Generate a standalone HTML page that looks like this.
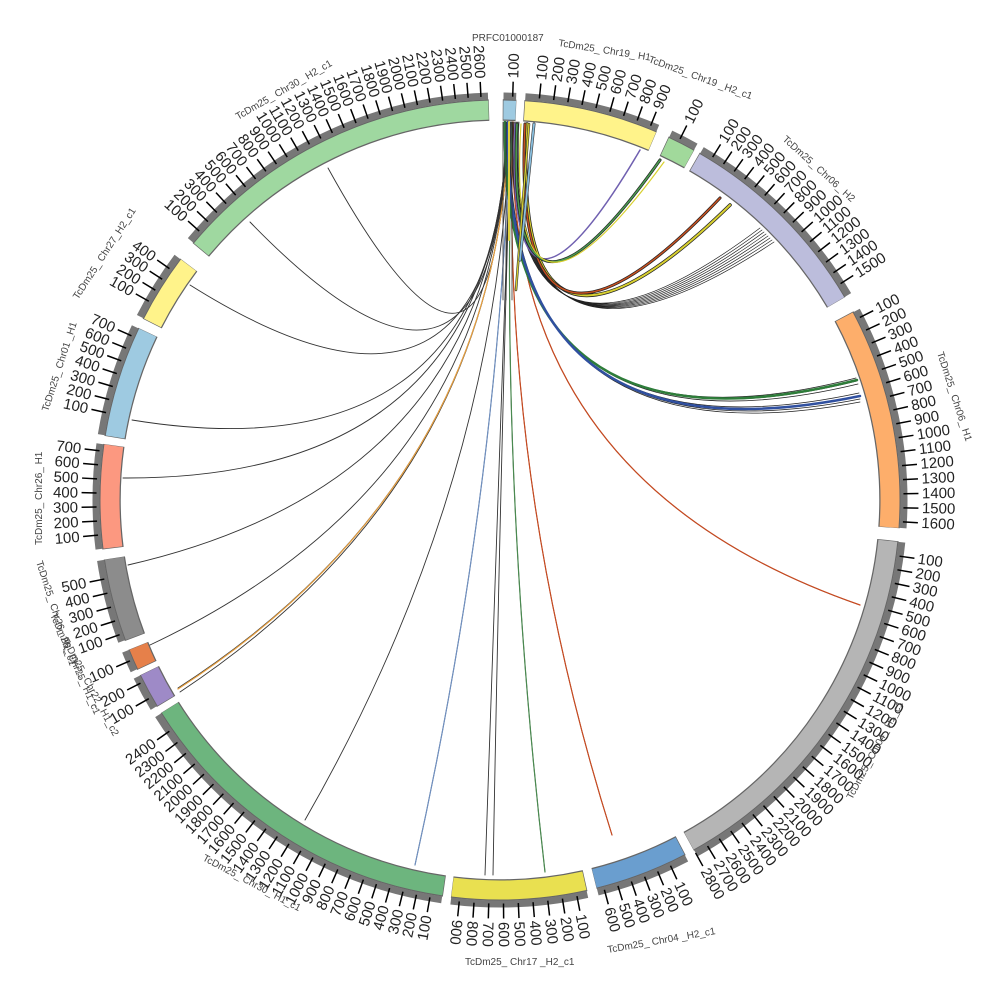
<!DOCTYPE html>
<html><head><meta charset="utf-8"><style>
html,body{margin:0;padding:0;background:#fff;width:1000px;height:1000px;overflow:hidden}
svg{display:block}
.t{font-family:"Liberation Sans",sans-serif;font-size:15px;fill:#222}
.r{text-anchor:start}.l{text-anchor:end}
.n{font-family:"Liberation Sans",sans-serif;font-size:10px;fill:#444}
</style></head><body>
<svg width="1000" height="1000" viewBox="0 0 1000 1000" xmlns="http://www.w3.org/2000/svg">
<g fill="none">
<!-- outlines -->
<g stroke="#666" stroke-width="21.5">
<circle cx="500" cy="500" r="390" stroke-dasharray="330 3000" transform="rotate(219.9 500 500)"/>
<circle cx="500" cy="500" r="390" stroke-dasharray="13.3 3000" transform="rotate(-89.6 500 500)"/>
<circle cx="500" cy="500" r="390" stroke-dasharray="133 3000" transform="rotate(-86.5 500 500)"/>
<circle cx="500" cy="500" r="390" stroke-dasharray="28.2 3000" transform="rotate(-65.1 500 500)"/>
<circle cx="500" cy="500" r="390" stroke-dasharray="201.8 3000" transform="rotate(-60.1 500 500)"/>
<circle cx="500" cy="500" r="390" stroke-dasharray="218.8 3000" transform="rotate(-28.1 500 500)"/>
<circle cx="500" cy="500" r="390" stroke-dasharray="375.4 3000" transform="rotate(5.9 500 500)"/>
<circle cx="500" cy="500" r="390" stroke-dasharray="92.9 3000" transform="rotate(62.4 500 500)"/>
<circle cx="500" cy="500" r="390" stroke-dasharray="133.7 3000" transform="rotate(77.4 500 500)"/>
<circle cx="500" cy="500" r="390" stroke-dasharray="338 3000" transform="rotate(98.2 500 500)"/>
<circle cx="500" cy="500" r="390" stroke-dasharray="35 3000" transform="rotate(148.9 500 500)"/>
<circle cx="500" cy="500" r="390" stroke-dasharray="21.4 3000" transform="rotate(154.9 500 500)"/>
<circle cx="500" cy="500" r="390" stroke-dasharray="82 3000" transform="rotate(159.4 500 500)"/>
<circle cx="500" cy="500" r="390" stroke-dasharray="103.1 3000" transform="rotate(172.9 500 500)"/>
<circle cx="500" cy="500" r="390" stroke-dasharray="110.6 3000" transform="rotate(189.2 500 500)"/>
<circle cx="500" cy="500" r="390" stroke-dasharray="69.1 3000" transform="rotate(206.9 500 500)"/>
</g>
<!-- fills -->
<g stroke-width="19">
<circle cx="500" cy="500" r="390" stroke="#9fd8a0" stroke-dasharray="328.8 3000" transform="rotate(220 500 500)"/>
<circle cx="500" cy="500" r="390" stroke="#9ecae1" stroke-dasharray="12.3 3000" transform="rotate(-89.5 500 500)"/>
<circle cx="500" cy="500" r="390" stroke="#fff38a" stroke-dasharray="132 3000" transform="rotate(-86.4 500 500)"/>
<circle cx="500" cy="500" r="390" stroke="#a1d99b" stroke-dasharray="27.2 3000" transform="rotate(-65 500 500)"/>
<circle cx="500" cy="500" r="390" stroke="#bcbddc" stroke-dasharray="200.8 3000" transform="rotate(-60 500 500)"/>
<circle cx="500" cy="500" r="390" stroke="#fdae6b" stroke-dasharray="217.8 3000" transform="rotate(-28 500 500)"/>
<circle cx="500" cy="500" r="390" stroke="#b5b5b5" stroke-dasharray="374.4 3000" transform="rotate(6 500 500)"/>
<circle cx="500" cy="500" r="390" stroke="#6a9ecf" stroke-dasharray="91.9 3000" transform="rotate(62.5 500 500)"/>
<circle cx="500" cy="500" r="390" stroke="#e9e050" stroke-dasharray="132.7 3000" transform="rotate(77.5 500 500)"/>
<circle cx="500" cy="500" r="390" stroke="#6db57e" stroke-dasharray="337 3000" transform="rotate(98.3 500 500)"/>
<circle cx="500" cy="500" r="390" stroke="#9e8ac7" stroke-dasharray="34 3000" transform="rotate(149 500 500)"/>
<circle cx="500" cy="500" r="390" stroke="#e6804a" stroke-dasharray="20.4 3000" transform="rotate(155 500 500)"/>
<circle cx="500" cy="500" r="390" stroke="#8c8c8c" stroke-dasharray="81 3000" transform="rotate(159.5 500 500)"/>
<circle cx="500" cy="500" r="390" stroke="#fc9880" stroke-dasharray="102.1 3000" transform="rotate(173 500 500)"/>
<circle cx="500" cy="500" r="390" stroke="#9ecae1" stroke-dasharray="109.6 3000" transform="rotate(189.3 500 500)"/>
<circle cx="500" cy="500" r="390" stroke="#fff38a" stroke-dasharray="68.1 3000" transform="rotate(207 500 500)"/>
</g>
<!-- gray band -->
<g stroke="#777" stroke-width="7">
<circle cx="500" cy="500" r="404" stroke-dasharray="340.5 3000" transform="rotate(220 500 500)"/>
<circle cx="500" cy="500" r="404" stroke-dasharray="12.7 3000" transform="rotate(-89.5 500 500)"/>
<circle cx="500" cy="500" r="404" stroke-dasharray="136.8 3000" transform="rotate(-86.4 500 500)"/>
<circle cx="500" cy="500" r="404" stroke-dasharray="28.2 3000" transform="rotate(-65 500 500)"/>
<circle cx="500" cy="500" r="404" stroke-dasharray="208 3000" transform="rotate(-60 500 500)"/>
<circle cx="500" cy="500" r="404" stroke-dasharray="225.6 3000" transform="rotate(-28 500 500)"/>
<circle cx="500" cy="500" r="404" stroke-dasharray="387.8 3000" transform="rotate(6 500 500)"/>
<circle cx="500" cy="500" r="404" stroke-dasharray="95.2 3000" transform="rotate(62.5 500 500)"/>
<circle cx="500" cy="500" r="404" stroke-dasharray="137.5 3000" transform="rotate(77.5 500 500)"/>
<circle cx="500" cy="500" r="404" stroke-dasharray="349 3000" transform="rotate(98.3 500 500)"/>
<circle cx="500" cy="500" r="404" stroke-dasharray="35.3 3000" transform="rotate(149 500 500)"/>
<circle cx="500" cy="500" r="404" stroke-dasharray="21.2 3000" transform="rotate(155 500 500)"/>
<circle cx="500" cy="500" r="404" stroke-dasharray="83.9 3000" transform="rotate(159.5 500 500)"/>
<circle cx="500" cy="500" r="404" stroke-dasharray="105.8 3000" transform="rotate(173 500 500)"/>
<circle cx="500" cy="500" r="404" stroke-dasharray="113.5 3000" transform="rotate(189.3 500 500)"/>
<circle cx="500" cy="500" r="404" stroke-dasharray="70.5 3000" transform="rotate(207 500 500)"/>
</g>
<!-- ticks -->
<g stroke="#000" stroke-width="15">
<circle cx="500" cy="500" r="411" stroke-dasharray="1.5 11.55 1.5 11.55 1.5 11.55 1.5 11.55 1.5 11.55 1.5 11.55 1.5 11.55 1.5 11.55 1.5 11.55 1.5 11.55 1.5 11.55 1.5 11.55 1.5 11.55 1.5 11.55 1.5 11.55 1.5 11.55 1.5 11.55 1.5 11.55 1.5 11.55 1.5 11.55 1.5 11.55 1.5 11.55 1.5 11.55 1.5 11.55 1.5 11.55 1.5 3000" transform="rotate(221.7 500 500)"/>
<circle cx="500" cy="500" r="411" stroke-dasharray="1.5 3000" transform="rotate(-88.3 500 500)"/>
<circle cx="500" cy="500" r="411" stroke-dasharray="1.5 13.13 1.5 13.13 1.5 13.13 1.5 13.13 1.5 13.13 1.5 13.13 1.5 13.13 1.5 13.13 1.5 3000" transform="rotate(-84.5 500 500)"/>
<circle cx="500" cy="500" r="411" stroke-dasharray="1.5 3000" transform="rotate(-63.6 500 500)"/>
<circle cx="500" cy="500" r="411" stroke-dasharray="1.5 11.7 1.5 11.7 1.5 11.7 1.5 11.7 1.5 11.7 1.5 11.7 1.5 11.7 1.5 11.7 1.5 11.7 1.5 11.7 1.5 11.7 1.5 11.7 1.5 11.7 1.5 11.7 1.5 3000" transform="rotate(-58.3 500 500)"/>
<circle cx="500" cy="500" r="411" stroke-dasharray="1.5 12.85 1.5 12.85 1.5 12.85 1.5 12.85 1.5 12.85 1.5 12.85 1.5 12.85 1.5 12.85 1.5 12.85 1.5 12.85 1.5 12.85 1.5 12.85 1.5 12.85 1.5 12.85 1.5 12.85 1.5 3000" transform="rotate(-27 500 500)"/>
<circle cx="500" cy="500" r="411" stroke-dasharray="1.5 12.58 1.5 12.58 1.5 12.58 1.5 12.58 1.5 12.58 1.5 12.58 1.5 12.58 1.5 12.58 1.5 12.58 1.5 12.58 1.5 12.58 1.5 12.58 1.5 12.58 1.5 12.58 1.5 12.58 1.5 12.58 1.5 12.58 1.5 12.58 1.5 12.58 1.5 12.58 1.5 12.58 1.5 12.58 1.5 12.58 1.5 12.58 1.5 12.58 1.5 12.58 1.5 12.58 1.5 3000" transform="rotate(7.9 500 500)"/>
<circle cx="500" cy="500" r="411" stroke-dasharray="1.5 12.85 1.5 12.85 1.5 12.85 1.5 12.85 1.5 12.85 1.5 3000" transform="rotate(64.9 500 500)"/>
<circle cx="500" cy="500" r="411" stroke-dasharray="1.5 13.56 1.5 13.56 1.5 13.56 1.5 13.56 1.5 13.56 1.5 13.56 1.5 13.56 1.5 13.56 1.5 3000" transform="rotate(78.9 500 500)"/>
<circle cx="500" cy="500" r="411" stroke-dasharray="1.5 12.54 1.5 12.54 1.5 12.54 1.5 12.54 1.5 12.54 1.5 12.54 1.5 12.54 1.5 12.54 1.5 12.54 1.5 12.54 1.5 12.54 1.5 12.54 1.5 12.54 1.5 12.54 1.5 12.54 1.5 12.54 1.5 12.54 1.5 12.54 1.5 12.54 1.5 12.54 1.5 12.54 1.5 12.54 1.5 12.54 1.5 3000" transform="rotate(99.9 500 500)"/>
<circle cx="500" cy="500" r="411" stroke-dasharray="1.5 16.4 1.5 3000" transform="rotate(150.4 500 500)"/>
<circle cx="500" cy="500" r="411" stroke-dasharray="1.5 3000" transform="rotate(156.4 500 500)"/>
<circle cx="500" cy="500" r="411" stroke-dasharray="1.5 13.2 1.5 13.2 1.5 13.2 1.5 13.2 1.5 3000" transform="rotate(160.4 500 500)"/>
<circle cx="500" cy="500" r="411" stroke-dasharray="1.5 12.85 1.5 12.85 1.5 12.85 1.5 12.85 1.5 12.85 1.5 12.85 1.5 3000" transform="rotate(174.9 500 500)"/>
<circle cx="500" cy="500" r="411" stroke-dasharray="1.5 12.27 1.5 12.27 1.5 12.27 1.5 12.27 1.5 12.27 1.5 12.27 1.5 3000" transform="rotate(192.4 500 500)"/>
<circle cx="500" cy="500" r="411" stroke-dasharray="1.5 11.63 1.5 11.63 1.5 11.63 1.5 3000" transform="rotate(209.4 500 500)"/>
</g>
</g>

<!-- chords -->
<g fill="none" stroke-linecap="round">
<g stroke="#333" stroke-width="0.9">
<path d="M506 122 Q500 480 328 168"/>
<path d="M506 122 Q500 480 250 222"/>
<path d="M507 122 Q500 480 190 285"/>
<path d="M507 122 Q500 480 132 420"/>
<path d="M507 122 Q500 480 123 478"/>
<path d="M508 122 Q500 480 128 565"/>
<path d="M508 122 Q500 480 150 645"/>
<path d="M509 122 Q500 480 178 688"/>
<path d="M509 122 Q500 480 180 692"/>
<path d="M510 122 Q500 480 305 820"/>
<path d="M510 122 Q500 480 415 865"/>
<path d="M511 122 Q500 480 485 875"/>
<path d="M511 122 Q500 480 493 875"/>
<path d="M512 122 Q500 480 545 872"/>
<path d="M513 122 Q500 480 612 835"/>
<path d="M513 122 Q500 480 860 605"/>
</g>
<g stroke-width="1.2">
<path d="M509 122 Q500 480 178 689" stroke="#e8a040"/>
<path d="M512 122 Q500 480 545 872" stroke="#4a8a50"/>
<path d="M513 122 Q500 480 612 835" stroke="#c84a20"/>
<path d="M513 122 Q500 480 860 605" stroke="#c84a20"/>
<path d="M510 122 Q500 480 415 865" stroke="#7090c0"/>
</g>
<!-- right bundles -->
<g stroke="#222" stroke-width="0.8">
<path d="M504 122 Q500 470 856 378"/>
<path d="M505 122 Q500 470 857 381"/>
<path d="M506 122 Q500 470 858 384"/>
<path d="M507 122 Q500 470 859 393"/>
<path d="M508 122 Q500 470 860 396"/>
<path d="M509 122 Q500 470 860 399"/>
<path d="M510 122 Q500 470 860 402"/>
</g>
<path d="M505 122 Q500 470 857 380" stroke="#2e7d3a" stroke-width="2.5"/>
<path d="M508 122 Q500 470 860 396" stroke="#3050a0" stroke-width="2.5"/>
<g stroke="#222" stroke-width="0.7">
<path d="M512 122 Q505 420 760 228"/>
<path d="M513 122 Q505 420 762 230"/>
<path d="M514 122 Q505 420 764 232"/>
<path d="M515 122 Q505 420 766 234"/>
<path d="M516 122 Q505 420 768 236"/>
<path d="M517 122 Q505 420 770 238"/>
<path d="M518 122 Q505 420 772 240"/>
<path d="M519 122 Q505 420 774 242"/>
</g>
<path d="M527 124 Q510 420 730 205" stroke="#222" stroke-width="3.5"/>
<path d="M527 124 Q510 420 730 205" stroke="#d8d030" stroke-width="2"/>
<path d="M525 124 Q510 420 720 198" stroke="#222" stroke-width="3"/>
<path d="M525 124 Q510 420 720 198" stroke="#c85020" stroke-width="1.5"/>
<path d="M515 124 Q505 380 640 150" stroke="#7060b0" stroke-width="1.5"/>
<path d="M517 124 Q505 380 660 160" stroke="#222" stroke-width="3"/>
<path d="M517 124 Q505 380 660 160" stroke="#4a9a50" stroke-width="1.6"/>
<path d="M521 124 Q505 380 664 162" stroke="#d8d030" stroke-width="1.2"/>
<!-- top ribbon stems -->
<path d="M503 122 L503 300 M506 122 L506 300 M512 122 L512 300" stroke="#333" stroke-width="0.8"/>
<path d="M509 122 L509 240" stroke="#e0d040" stroke-width="2"/>
<path d="M529 124 L516 290" stroke="#333" stroke-width="2.5"/>
<path d="M529 124 L516 290" stroke="#d8d030" stroke-width="1.3"/>
<path d="M534 124 L520 260" stroke="#333" stroke-width="3"/>
<path d="M534 124 L520 260" stroke="#8ac0e0" stroke-width="1.8"/>
</g>

<!-- labels: right convention -->
<g class="t r">
<text x="922" y="505" transform="rotate(-88.2 500 500)">100</text>
<text x="922" y="505" transform="rotate(-84.4 500 500)">100</text>
<text x="922" y="505" transform="rotate(-82.3 500 500)">200</text>
<text x="922" y="505" transform="rotate(-80.3 500 500)">300</text>
<text x="922" y="505" transform="rotate(-78.2 500 500)">400</text>
<text x="922" y="505" transform="rotate(-76.2 500 500)">500</text>
<text x="922" y="505" transform="rotate(-74.2 500 500)">600</text>
<text x="922" y="505" transform="rotate(-72.1 500 500)">700</text>
<text x="922" y="505" transform="rotate(-70.1 500 500)">800</text>
<text x="922" y="505" transform="rotate(-68.1 500 500)">900</text>
<text x="922" y="505" transform="rotate(-63.5 500 500)">100</text>
<text x="922" y="505" transform="rotate(-58.2 500 500)">100</text>
<text x="922" y="505" transform="rotate(-56.3 500 500)">200</text>
<text x="922" y="505" transform="rotate(-54.5 500 500)">300</text>
<text x="922" y="505" transform="rotate(-52.6 500 500)">400</text>
<text x="922" y="505" transform="rotate(-50.8 500 500)">500</text>
<text x="922" y="505" transform="rotate(-49 500 500)">600</text>
<text x="922" y="505" transform="rotate(-47.1 500 500)">700</text>
<text x="922" y="505" transform="rotate(-45.3 500 500)">800</text>
<text x="922" y="505" transform="rotate(-43.5 500 500)">900</text>
<text x="922" y="505" transform="rotate(-41.6 500 500)">1000</text>
<text x="922" y="505" transform="rotate(-39.8 500 500)">1100</text>
<text x="922" y="505" transform="rotate(-38 500 500)">1200</text>
<text x="922" y="505" transform="rotate(-36.1 500 500)">1300</text>
<text x="922" y="505" transform="rotate(-34.3 500 500)">1400</text>
<text x="922" y="505" transform="rotate(-32.4 500 500)">1500</text>
<text x="922" y="505" transform="rotate(-26.9 500 500)">100</text>
<text x="922" y="505" transform="rotate(-24.9 500 500)">200</text>
<text x="922" y="505" transform="rotate(-22.9 500 500)">300</text>
<text x="922" y="505" transform="rotate(-20.9 500 500)">400</text>
<text x="922" y="505" transform="rotate(-18.9 500 500)">500</text>
<text x="922" y="505" transform="rotate(-16.9 500 500)">600</text>
<text x="922" y="505" transform="rotate(-14.9 500 500)">700</text>
<text x="922" y="505" transform="rotate(-12.9 500 500)">800</text>
<text x="922" y="505" transform="rotate(-10.9 500 500)">900</text>
<text x="922" y="505" transform="rotate(-8.9 500 500)">1000</text>
<text x="922" y="505" transform="rotate(-6.9 500 500)">1100</text>
<text x="922" y="505" transform="rotate(-4.9 500 500)">1200</text>
<text x="922" y="505" transform="rotate(-2.9 500 500)">1300</text>
<text x="922" y="505" transform="rotate(-0.9 500 500)">1400</text>
<text x="922" y="505" transform="rotate(1.1 500 500)">1500</text>
<text x="922" y="505" transform="rotate(3.1 500 500)">1600</text>
<text x="922" y="505" transform="rotate(8 500 500)">100</text>
<text x="922" y="505" transform="rotate(9.96 500 500)">200</text>
<text x="922" y="505" transform="rotate(11.9 500 500)">300</text>
<text x="922" y="505" transform="rotate(13.9 500 500)">400</text>
<text x="922" y="505" transform="rotate(15.9 500 500)">500</text>
<text x="922" y="505" transform="rotate(17.8 500 500)">600</text>
<text x="922" y="505" transform="rotate(19.8 500 500)">700</text>
<text x="922" y="505" transform="rotate(21.7 500 500)">800</text>
<text x="922" y="505" transform="rotate(23.7 500 500)">900</text>
<text x="922" y="505" transform="rotate(25.7 500 500)">1000</text>
<text x="922" y="505" transform="rotate(27.6 500 500)">1100</text>
<text x="922" y="505" transform="rotate(29.6 500 500)">1200</text>
<text x="922" y="505" transform="rotate(31.6 500 500)">1300</text>
<text x="922" y="505" transform="rotate(33.5 500 500)">1400</text>
<text x="922" y="505" transform="rotate(35.5 500 500)">1500</text>
<text x="922" y="505" transform="rotate(37.4 500 500)">1600</text>
<text x="922" y="505" transform="rotate(39.4 500 500)">1700</text>
<text x="922" y="505" transform="rotate(41.4 500 500)">1800</text>
<text x="922" y="505" transform="rotate(43.3 500 500)">1900</text>
<text x="922" y="505" transform="rotate(45.3 500 500)">2000</text>
<text x="922" y="505" transform="rotate(47.3 500 500)">2100</text>
<text x="922" y="505" transform="rotate(49.2 500 500)">2200</text>
<text x="922" y="505" transform="rotate(51.2 500 500)">2300</text>
<text x="922" y="505" transform="rotate(53.1 500 500)">2400</text>
<text x="922" y="505" transform="rotate(55.1 500 500)">2500</text>
<text x="922" y="505" transform="rotate(57.1 500 500)">2600</text>
<text x="922" y="505" transform="rotate(59 500 500)">2700</text>
<text x="922" y="505" transform="rotate(61 500 500)">2800</text>
<text x="922" y="505" transform="rotate(65 500 500)">100</text>
<text x="922" y="505" transform="rotate(67 500 500)">200</text>
<text x="922" y="505" transform="rotate(69 500 500)">300</text>
<text x="922" y="505" transform="rotate(71 500 500)">400</text>
<text x="922" y="505" transform="rotate(73 500 500)">500</text>
<text x="922" y="505" transform="rotate(75 500 500)">600</text>
<text x="922" y="505" transform="rotate(79 500 500)">100</text>
<text x="922" y="505" transform="rotate(81.1 500 500)">200</text>
<text x="922" y="505" transform="rotate(83.2 500 500)">300</text>
<text x="922" y="505" transform="rotate(85.3 500 500)">400</text>
<text x="922" y="505" transform="rotate(87.4 500 500)">500</text>
<text x="922" y="505" transform="rotate(89.5 500 500)">600</text>
<text x="922" y="505" transform="rotate(91.6 500 500)">700</text>
<text x="922" y="505" transform="rotate(93.7 500 500)">800</text>
<text x="922" y="505" transform="rotate(95.8 500 500)">900</text>
</g>
<!-- labels: left convention -->
<g class="t l">
<text x="78" y="505" transform="rotate(-80 500 500)">100</text>
<text x="78" y="505" transform="rotate(-78 500 500)">200</text>
<text x="78" y="505" transform="rotate(-76.1 500 500)">300</text>
<text x="78" y="505" transform="rotate(-74.1 500 500)">400</text>
<text x="78" y="505" transform="rotate(-72.2 500 500)">500</text>
<text x="78" y="505" transform="rotate(-70.2 500 500)">600</text>
<text x="78" y="505" transform="rotate(-68.3 500 500)">700</text>
<text x="78" y="505" transform="rotate(-66.3 500 500)">800</text>
<text x="78" y="505" transform="rotate(-64.3 500 500)">900</text>
<text x="78" y="505" transform="rotate(-62.4 500 500)">1000</text>
<text x="78" y="505" transform="rotate(-60.4 500 500)">1100</text>
<text x="78" y="505" transform="rotate(-58.5 500 500)">1200</text>
<text x="78" y="505" transform="rotate(-56.5 500 500)">1300</text>
<text x="78" y="505" transform="rotate(-54.6 500 500)">1400</text>
<text x="78" y="505" transform="rotate(-52.6 500 500)">1500</text>
<text x="78" y="505" transform="rotate(-50.6 500 500)">1600</text>
<text x="78" y="505" transform="rotate(-48.7 500 500)">1700</text>
<text x="78" y="505" transform="rotate(-46.7 500 500)">1800</text>
<text x="78" y="505" transform="rotate(-44.8 500 500)">1900</text>
<text x="78" y="505" transform="rotate(-42.8 500 500)">2000</text>
<text x="78" y="505" transform="rotate(-40.9 500 500)">2100</text>
<text x="78" y="505" transform="rotate(-38.9 500 500)">2200</text>
<text x="78" y="505" transform="rotate(-37 500 500)">2300</text>
<text x="78" y="505" transform="rotate(-35 500 500)">2400</text>
<text x="78" y="505" transform="rotate(-29.5 500 500)">100</text>
<text x="78" y="505" transform="rotate(-27 500 500)">200</text>
<text x="78" y="505" transform="rotate(-23.5 500 500)">100</text>
<text x="78" y="505" transform="rotate(-19.5 500 500)">100</text>
<text x="78" y="505" transform="rotate(-17.45 500 500)">200</text>
<text x="78" y="505" transform="rotate(-15.4 500 500)">300</text>
<text x="78" y="505" transform="rotate(-13.35 500 500)">400</text>
<text x="78" y="505" transform="rotate(-11.3 500 500)">500</text>
<text x="78" y="505" transform="rotate(-5 500 500)">100</text>
<text x="78" y="505" transform="rotate(-3 500 500)">200</text>
<text x="78" y="505" transform="rotate(-1 500 500)">300</text>
<text x="78" y="505" transform="rotate(1 500 500)">400</text>
<text x="78" y="505" transform="rotate(3 500 500)">500</text>
<text x="78" y="505" transform="rotate(5 500 500)">600</text>
<text x="78" y="505" transform="rotate(7 500 500)">700</text>
<text x="78" y="505" transform="rotate(12.5 500 500)">100</text>
<text x="78" y="505" transform="rotate(14.4 500 500)">200</text>
<text x="78" y="505" transform="rotate(16.3 500 500)">300</text>
<text x="78" y="505" transform="rotate(18.3 500 500)">400</text>
<text x="78" y="505" transform="rotate(20.2 500 500)">500</text>
<text x="78" y="505" transform="rotate(22.1 500 500)">600</text>
<text x="78" y="505" transform="rotate(24 500 500)">700</text>
<text x="78" y="505" transform="rotate(29.5 500 500)">100</text>
<text x="78" y="505" transform="rotate(31.3 500 500)">200</text>
<text x="78" y="505" transform="rotate(33.2 500 500)">300</text>
<text x="78" y="505" transform="rotate(35 500 500)">400</text>
<text x="78" y="505" transform="rotate(41.8 500 500)">100</text>
<text x="78" y="505" transform="rotate(43.6 500 500)">200</text>
<text x="78" y="505" transform="rotate(45.5 500 500)">300</text>
<text x="78" y="505" transform="rotate(47.3 500 500)">400</text>
<text x="78" y="505" transform="rotate(49.1 500 500)">500</text>
<text x="78" y="505" transform="rotate(50.9 500 500)">600</text>
<text x="78" y="505" transform="rotate(52.7 500 500)">700</text>
<text x="78" y="505" transform="rotate(54.6 500 500)">800</text>
<text x="78" y="505" transform="rotate(56.4 500 500)">900</text>
<text x="78" y="505" transform="rotate(58.2 500 500)">1000</text>
<text x="78" y="505" transform="rotate(60 500 500)">1100</text>
<text x="78" y="505" transform="rotate(61.8 500 500)">1200</text>
<text x="78" y="505" transform="rotate(63.7 500 500)">1300</text>
<text x="78" y="505" transform="rotate(65.5 500 500)">1400</text>
<text x="78" y="505" transform="rotate(67.3 500 500)">1500</text>
<text x="78" y="505" transform="rotate(69.1 500 500)">1600</text>
<text x="78" y="505" transform="rotate(70.9 500 500)">1700</text>
<text x="78" y="505" transform="rotate(72.8 500 500)">1800</text>
<text x="78" y="505" transform="rotate(74.6 500 500)">1900</text>
<text x="78" y="505" transform="rotate(76.4 500 500)">2000</text>
<text x="78" y="505" transform="rotate(78.2 500 500)">2100</text>
<text x="78" y="505" transform="rotate(80 500 500)">2200</text>
<text x="78" y="505" transform="rotate(81.9 500 500)">2300</text>
<text x="78" y="505" transform="rotate(83.7 500 500)">2400</text>
<text x="78" y="505" transform="rotate(85.5 500 500)">2500</text>
<text x="78" y="505" transform="rotate(87.3 500 500)">2600</text>
</g>

<!-- chromosome names -->
<g class="n">
<text x="472" y="41">PRFC01000187</text>
<text x="558" y="46" transform="rotate(9 558 46)">TcDm25_ Chr19_ H1</text>
<text x="648" y="62" transform="rotate(20 648 62)">TcDm25_ Chr19 _H2_c1</text>
<text x="782" y="140" transform="rotate(42 782 140)">TcDm25_ Chr06_ H2</text>
<text x="937" y="353" transform="rotate(72 937 353)">TcDm25_ Chr06_ H1</text>
<text x="852" y="800" transform="rotate(-62 852 800)">TcDm25_ Chr04_ H1_c1</text>
<text x="608" y="953" transform="rotate(-10 608 953)">TcDm25_ Chr04 _H2_c1</text>
<text x="465" y="965">TcDm25_ Chr17 _H2_c1</text>
<text x="202" y="860" transform="rotate(28 202 860)">TcDm25_ Chr30_ H1_c1</text>
<text x="42" y="545" transform="rotate(-90 42 545)">TcDm25_ Chr26_ H1</text>
<text x="48" y="412" transform="rotate(-72 48 412)">TcDm25_ Chr01 _H1</text>
<text x="78" y="300" transform="rotate(-57 78 300)">TcDm25_ Chr27_H2_c1</text>
<text x="238" y="120" transform="rotate(-30 238 120)">TcDm25_ Chr30_ H2_c1</text>
<text x="36" y="562" transform="rotate(72 36 562)">TcDm25_ Chr26_ H1_c1</text>
<text x="50" y="615" transform="rotate(66 50 615)">TcDm25_ Chr25_ H1_c1</text>
<text x="62" y="640" transform="rotate(62 62 640)">TcDm25_ Chr22_ H1_c2</text>
</g>
</svg>
</body></html>
